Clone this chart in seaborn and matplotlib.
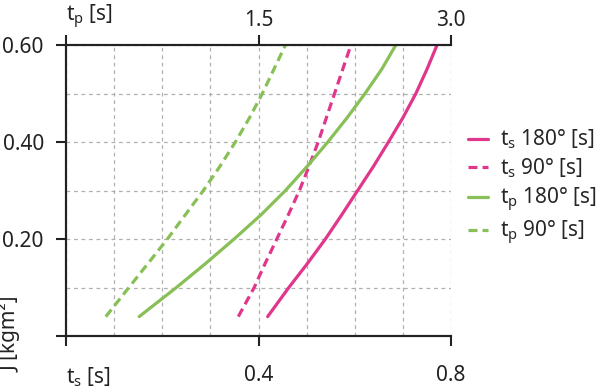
import numpy as np
import matplotlib
matplotlib.use("Agg")
import matplotlib.pyplot as plt
import seaborn as sns

# inertia values (y) shared by all curves
J = [0.04, 0.10, 0.15, 0.20, 0.25, 0.30, 0.35, 0.40, 0.45, 0.50, 0.55, 0.60]

# ts curves (bottom axis, seconds)
ts_180 = [0.419, 0.463, 0.502, 0.539, 0.573, 0.606, 0.639, 0.670, 0.700, 0.727, 0.750, 0.771]
ts_90 = [0.358, 0.391, 0.414, 0.438, 0.462, 0.485, 0.505, 0.524, 0.541, 0.558, 0.575, 0.592]

# tp curves (top axis, seconds)
tp_180 = [0.57, 0.86, 1.09, 1.31, 1.52, 1.71, 1.88, 2.04, 2.19, 2.33, 2.46, 2.57]
tp_90 = [0.31, 0.49, 0.64, 0.79, 0.93, 1.07, 1.20, 1.32, 1.43, 1.53, 1.62, 1.71]

ts_ticks = [0, 0.4, 0.8]
ts_labels = [r"$\mathregular{t_s}$ [s]", "0.4", "0.8"]
tp_ticks = [0, 1.5, 3.0]
tp_labels = [r"$\mathregular{t_p}$ [s]", "1.5", "3.0"]
j_ticks = [0, 0.2, 0.4, 0.6]
j_labels = ["", "0.20", "0.40", "0.60"]

MAGENTA = "#e0368c"
GREEN = "#88c057"
DASH = (0, (2.8, 1.6))

sns.set_theme(style="white")
plt.rcParams["font.family"] = ["Noto Sans", "DejaVu Sans"]
plt.rcParams["axes.edgecolor"] = "#222222"
plt.rcParams["axes.linewidth"] = 1.5

fig = plt.figure(figsize=(6, 3.88), dpi=100)
ax = fig.add_axes([0.11, 0.134, 0.6417, 0.75])
ax2 = ax.twiny()

# ts on bottom axis
l1 = sns.lineplot(x=ts_180, y=J, ax=ax, color=MAGENTA, linewidth=2.3,
                  label=r"$\mathregular{t_s}$ 180° [s]", legend=False).lines[-1]
l2 = sns.lineplot(x=ts_90, y=J, ax=ax, color=MAGENTA, linewidth=2.3, linestyle=DASH,
                  label=r"$\mathregular{t_s}$ 90° [s]", legend=False).lines[-1]
# tp on top axis
l3 = sns.lineplot(x=tp_180, y=J, ax=ax2, color=GREEN, linewidth=2.3,
                  label=r"$\mathregular{t_p}$ 180° [s]", legend=False).lines[-1]
l4 = sns.lineplot(x=tp_90, y=J, ax=ax2, color=GREEN, linewidth=2.3, linestyle=DASH,
                  label=r"$\mathregular{t_p}$ 90° [s]", legend=False).lines[-1]

ax.set_xlim(0, 0.8)
ax.set_ylim(0, 0.6)
ax2.set_xlim(0, 3.0)
ax2.set_ylim(0, 0.6)

ax.set_xticks(ts_ticks)
ax.set_xticklabels(ts_labels)
ax.set_yticks(j_ticks)
ax.set_yticklabels(j_labels)
ax.set_xticks(np.arange(0.1, 0.81, 0.1), minor=True)
ax.set_yticks(np.arange(0.1, 0.61, 0.1), minor=True)
ax2.set_xticks(tp_ticks)
ax2.set_xticklabels(tp_labels)

ax.grid(True, which="both", color="#b0b0b0", linestyle=(0, (3, 3)), linewidth=0.9)
ax2.grid(False)
ax.set_axisbelow(True)

for a in (ax, ax2):
    a.spines["right"].set_visible(False)
    a.set_xlabel("")
    a.set_ylabel("")
ax.tick_params(axis="both", which="major", length=7, width=1.5, direction="out",
               labelsize=15, colors="#222222")
ax.tick_params(axis="x", which="major", pad=14, bottom=True)
ax.tick_params(axis="y", which="major", pad=9, left=True)
ax.tick_params(which="minor", length=0)
ax2.tick_params(axis="x", which="major", length=7, width=1.5, direction="out",
                labelsize=15, pad=3, top=True, colors="#222222")
ax.get_xticklabels()[0].set_ha("left")
ax2.get_xticklabels()[0].set_ha("left")

fig.text(0.017, 0.235, "J [kgm²]", rotation=90, ha="center", va="top", fontsize=15,
         color="#222222")

fig.legend(handles=[l1, l2, l3, l4], loc="center left", bbox_to_anchor=(0.78, 0.517),
           bbox_transform=fig.transFigure, frameon=False, fontsize=15,
           handlelength=0.96, handletextpad=0.6, labelspacing=0.25,
           borderaxespad=0, borderpad=0)

fig.savefig("out.png", dpi=100)
